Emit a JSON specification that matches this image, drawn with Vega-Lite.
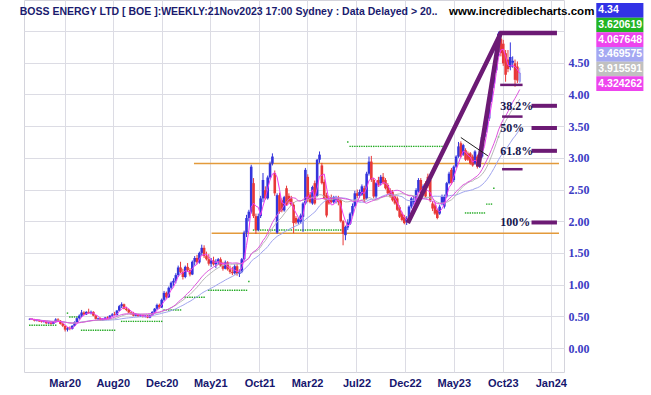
{
"$schema":"https://vega.github.io/schema/vega-lite/v6.json",
"width":540,"height":372,"autosize":"none",
"padding":{"left":24,"top":0,"right":87,"bottom":23},
"background":"#ffffff",
"config":{"view":{"stroke":"#d4d4dc","strokeWidth":1},"axis":{"labelOverlap":false}},
"datasets":{
"candles":[
{"w":0,"o":0.45,"h":0.47,"l":0.44,"c":0.46,"s":0.36},
{"w":1,"o":0.46,"h":0.47,"l":0.44,"c":0.45,"s":0.36},
{"w":2,"o":0.45,"h":0.46,"l":0.42,"c":0.43,"s":0.36},
{"w":3,"o":0.43,"h":0.45,"l":0.42,"c":0.44,"s":0.36},
{"w":4,"o":0.44,"h":0.45,"l":0.41,"c":0.42,"s":0.36},
{"w":5,"o":0.42,"h":0.43,"l":0.40,"c":0.41,"s":0.36},
{"w":6,"o":0.41,"h":0.43,"l":0.40,"c":0.42,"s":0.36},
{"w":7,"o":0.42,"h":0.42,"l":0.38,"c":0.39,"s":0.36},
{"w":8,"o":0.39,"h":0.41,"l":0.38,"c":0.40,"s":0.36},
{"w":9,"o":0.40,"h":0.41,"l":0.37,"c":0.38,"s":0.36},
{"w":10,"o":0.38,"h":0.42,"l":0.38,"c":0.41,"s":0.36},
{"w":11,"o":0.41,"h":0.47,"l":0.40,"c":0.45,"s":0.36},
{"w":12,"o":0.45,"h":0.47,"l":0.42,"c":0.43},
{"w":13,"o":0.43,"h":0.44,"l":0.37,"c":0.38},
{"w":14,"o":0.38,"h":0.40,"l":0.33,"c":0.35},
{"w":15,"o":0.35,"h":0.36,"l":0.26,"c":0.29},
{"w":16,"o":0.29,"h":0.33,"l":0.26,"c":0.31,"s":0.55},
{"w":17,"o":0.31,"h":0.34,"l":0.28,"c":0.30,"s":0.49},
{"w":18,"o":0.30,"h":0.36,"l":0.29,"c":0.35,"s":0.49},
{"w":19,"o":0.35,"h":0.42,"l":0.34,"c":0.41,"s":0.49},
{"w":20,"o":0.41,"h":0.48,"l":0.40,"c":0.47,"s":0.49},
{"w":21,"o":0.47,"h":0.53,"l":0.45,"c":0.51},
{"w":22,"o":0.51,"h":0.60,"l":0.49,"c":0.56,"s":0.28},
{"w":23,"o":0.56,"h":0.58,"l":0.52,"c":0.53,"s":0.28},
{"w":24,"o":0.53,"h":0.58,"l":0.52,"c":0.57,"s":0.28},
{"w":25,"o":0.57,"h":0.62,"l":0.54,"c":0.55,"s":0.28},
{"w":26,"o":0.55,"h":0.59,"l":0.53,"c":0.57,"s":0.28},
{"w":27,"o":0.57,"h":0.58,"l":0.50,"c":0.51,"s":0.28},
{"w":28,"o":0.51,"h":0.52,"l":0.45,"c":0.46,"s":0.28},
{"w":29,"o":0.46,"h":0.48,"l":0.44,"c":0.47,"s":0.28},
{"w":30,"o":0.47,"h":0.48,"l":0.43,"c":0.44,"s":0.28},
{"w":31,"o":0.44,"h":0.47,"l":0.43,"c":0.46,"s":0.28},
{"w":32,"o":0.46,"h":0.49,"l":0.45,"c":0.48,"s":0.28},
{"w":33,"o":0.48,"h":0.50,"l":0.46,"c":0.47,"s":0.28},
{"w":34,"o":0.47,"h":0.52,"l":0.46,"c":0.51,"s":0.28},
{"w":35,"o":0.51,"h":0.55,"l":0.49,"c":0.53,"s":0.28},
{"w":36,"o":0.53,"h":0.57,"l":0.51,"c":0.52,"s":0.28},
{"w":37,"o":0.52,"h":0.60,"l":0.51,"c":0.59},
{"w":38,"o":0.59,"h":0.68,"l":0.58,"c":0.66},
{"w":39,"o":0.66,"h":0.72,"l":0.63,"c":0.69,"s":0.42},
{"w":40,"o":0.69,"h":0.70,"l":0.61,"c":0.62,"s":0.42},
{"w":41,"o":0.62,"h":0.65,"l":0.58,"c":0.60,"s":0.42},
{"w":42,"o":0.60,"h":0.62,"l":0.55,"c":0.56,"s":0.42},
{"w":43,"o":0.56,"h":0.58,"l":0.52,"c":0.55,"s":0.42},
{"w":44,"o":0.55,"h":0.57,"l":0.50,"c":0.51,"s":0.42},
{"w":45,"o":0.51,"h":0.55,"l":0.50,"c":0.53,"s":0.42},
{"w":46,"o":0.53,"h":0.54,"l":0.49,"c":0.50,"s":0.42},
{"w":47,"o":0.50,"h":0.53,"l":0.49,"c":0.52,"s":0.42},
{"w":48,"o":0.52,"h":0.53,"l":0.48,"c":0.49,"s":0.42},
{"w":49,"o":0.49,"h":0.52,"l":0.48,"c":0.51,"s":0.42},
{"w":50,"o":0.51,"h":0.52,"l":0.47,"c":0.48,"s":0.42},
{"w":51,"o":0.48,"h":0.53,"l":0.47,"c":0.52,"s":0.42},
{"w":52,"o":0.52,"h":0.58,"l":0.51,"c":0.57,"s":0.42},
{"w":53,"o":0.57,"h":0.63,"l":0.55,"c":0.62,"s":0.42},
{"w":54,"o":0.62,"h":0.70,"l":0.60,"c":0.68,"s":0.42},
{"w":55,"o":0.68,"h":0.70,"l":0.62,"c":0.64,"s":0.42},
{"w":56,"o":0.64,"h":0.78,"l":0.63,"c":0.76,"s":0.42},
{"w":57,"o":0.76,"h":0.90,"l":0.74,"c":0.87,"s":0.60},
{"w":58,"o":0.87,"h":0.89,"l":0.78,"c":0.80,"s":0.60},
{"w":59,"o":0.80,"h":0.97,"l":0.79,"c":0.95,"s":0.60},
{"w":60,"o":0.95,"h":1.05,"l":0.92,"c":1.03,"s":0.60},
{"w":61,"o":1.03,"h":1.10,"l":0.98,"c":1.06,"s":0.60},
{"w":62,"o":1.06,"h":1.18,"l":1.02,"c":1.15,"s":0.60},
{"w":63,"o":1.15,"h":1.30,"l":1.12,"c":1.27,"s":0.60},
{"w":64,"o":1.27,"h":1.36,"l":1.18,"c":1.20,"s":0.60},
{"w":65,"o":1.20,"h":1.25,"l":1.08,"c":1.12},
{"w":66,"o":1.12,"h":1.30,"l":1.10,"c":1.28,"s":0.80},
{"w":67,"o":1.28,"h":1.34,"l":1.20,"c":1.23,"s":0.80},
{"w":68,"o":1.23,"h":1.26,"l":1.13,"c":1.16,"s":0.80},
{"w":69,"o":1.16,"h":1.38,"l":1.15,"c":1.36,"s":0.80},
{"w":70,"o":1.36,"h":1.45,"l":1.30,"c":1.42,"s":0.80},
{"w":71,"o":1.42,"h":1.47,"l":1.32,"c":1.35,"s":0.80},
{"w":72,"o":1.35,"h":1.52,"l":1.33,"c":1.50,"s":0.80},
{"w":73,"o":1.50,"h":1.63,"l":1.46,"c":1.58,"s":0.80},
{"w":74,"o":1.58,"h":1.62,"l":1.42,"c":1.45,"s":0.80},
{"w":75,"o":1.45,"h":1.52,"l":1.38,"c":1.40},
{"w":76,"o":1.40,"h":1.48,"l":1.30,"c":1.33,"s":0.91},
{"w":77,"o":1.33,"h":1.42,"l":1.28,"c":1.38,"s":0.91},
{"w":78,"o":1.38,"h":1.44,"l":1.30,"c":1.32,"s":0.91},
{"w":79,"o":1.32,"h":1.40,"l":1.26,"c":1.36,"s":0.91},
{"w":80,"o":1.36,"h":1.42,"l":1.32,"c":1.40,"s":0.91},
{"w":81,"o":1.40,"h":1.43,"l":1.28,"c":1.30,"s":0.91},
{"w":82,"o":1.30,"h":1.36,"l":1.22,"c":1.25,"s":0.91},
{"w":83,"o":1.25,"h":1.38,"l":1.24,"c":1.35,"s":0.91},
{"w":84,"o":1.35,"h":1.37,"l":1.22,"c":1.24,"s":0.91},
{"w":85,"o":1.24,"h":1.30,"l":1.17,"c":1.20,"s":0.91},
{"w":86,"o":1.20,"h":1.28,"l":1.15,"c":1.18,"s":0.91},
{"w":87,"o":1.18,"h":1.32,"l":1.16,"c":1.29,"s":0.91},
{"w":88,"o":1.29,"h":1.33,"l":1.14,"c":1.17,"s":0.91},
{"w":89,"o":1.17,"h":1.24,"l":1.12,"c":1.20,"s":0.91},
{"w":90,"o":1.20,"h":1.42,"l":1.18,"c":1.40,"s":0.91},
{"w":91,"o":1.40,"h":1.85,"l":1.38,"c":1.82,"s":0.91},
{"w":92,"o":1.82,"h":2.10,"l":1.75,"c":2.05,"s":0.91},
{"w":93,"o":2.05,"h":2.18,"l":2.00,"c":2.15,"s":1.05},
{"w":94,"o":2.15,"h":2.89,"l":2.12,"c":2.86},
{"w":95,"o":2.60,"h":2.68,"l":2.05,"c":2.08,"s":1.86},
{"w":96,"o":2.08,"h":2.12,"l":1.80,"c":1.86,"s":1.86},
{"w":97,"o":1.86,"h":2.12,"l":1.84,"c":2.08,"s":1.86},
{"w":98,"o":2.08,"h":2.40,"l":2.05,"c":2.36,"s":1.86},
{"w":99,"o":2.36,"h":2.76,"l":2.30,"c":2.65,"s":1.86},
{"w":100,"o":2.49,"h":2.55,"l":2.34,"c":2.36,"s":1.86},
{"w":101,"o":2.36,"h":2.72,"l":2.34,"c":2.69,"s":1.86},
{"w":102,"o":2.69,"h":2.94,"l":2.66,"c":2.91,"s":1.86},
{"w":103,"o":2.91,"h":3.07,"l":2.88,"c":3.02,"s":1.86},
{"w":104,"o":2.76,"h":2.80,"l":2.40,"c":2.44,"s":1.86},
{"w":105,"o":1.82,"h":2.44,"l":1.80,"c":2.41,"s":1.86},
{"w":106,"o":2.41,"h":2.45,"l":2.12,"c":2.15,"s":1.86},
{"w":107,"o":2.33,"h":2.36,"l":2.14,"c":2.17,"s":1.86},
{"w":108,"o":2.17,"h":2.40,"l":2.15,"c":2.38,"s":1.86},
{"w":109,"o":2.52,"h":2.56,"l":2.24,"c":2.26,"s":1.86},
{"w":110,"o":2.40,"h":2.44,"l":2.28,"c":2.31,"s":1.86},
{"w":111,"o":2.36,"h":2.40,"l":2.24,"c":2.26,"s":1.86},
{"w":112,"o":2.26,"h":2.30,"l":1.81,"c":1.97,"s":1.86},
{"w":113,"o":2.05,"h":2.08,"l":1.95,"c":1.98,"s":1.86},
{"w":114,"o":1.98,"h":2.06,"l":1.95,"c":2.03,"s":1.86},
{"w":115,"o":1.99,"h":2.12,"l":1.96,"c":2.09,"s":1.86},
{"w":116,"o":2.07,"h":2.30,"l":1.83,"c":2.28,"s":1.86},
{"w":117,"o":2.28,"h":2.84,"l":2.26,"c":2.81,"s":1.86},
{"w":118,"o":2.70,"h":2.74,"l":2.30,"c":2.33,"s":1.86},
{"w":119,"o":2.42,"h":2.46,"l":2.28,"c":2.30,"s":1.86},
{"w":120,"o":2.28,"h":2.56,"l":2.26,"c":2.54,"s":1.86},
{"w":121,"o":2.60,"h":2.64,"l":2.26,"c":2.28,"s":1.86},
{"w":122,"o":2.40,"h":2.98,"l":2.38,"c":2.97,"s":1.86},
{"w":123,"o":2.97,"h":3.10,"l":2.92,"c":3.05,"s":1.86},
{"w":124,"o":2.88,"h":2.92,"l":2.58,"c":2.60,"s":1.86},
{"w":125,"o":2.62,"h":2.66,"l":2.34,"c":2.36,"s":1.86},
{"w":126,"o":2.41,"h":2.45,"l":2.06,"c":2.09,"s":1.86},
{"w":127,"o":2.36,"h":2.40,"l":2.26,"c":2.28,"s":1.86},
{"w":128,"o":2.38,"h":2.42,"l":2.28,"c":2.30,"s":1.86},
{"w":129,"o":2.30,"h":2.40,"l":2.28,"c":2.38,"s":1.86},
{"w":130,"o":2.34,"h":2.40,"l":2.28,"c":2.36,"s":1.86},
{"w":131,"o":2.36,"h":2.40,"l":2.25,"c":2.30,"s":1.86},
{"w":132,"o":2.33,"h":2.36,"l":1.98,"c":2.00,"s":1.86},
{"w":133,"o":2.00,"h":2.02,"l":1.62,"c":1.80,"s":1.86},
{"w":134,"o":1.78,"h":1.93,"l":1.70,"c":1.91,"s":1.86},
{"w":135,"o":1.90,"h":2.03,"l":1.86,"c":1.98,"s":3.25},
{"w":136,"o":1.96,"h":2.14,"l":1.94,"c":2.12,"s":3.18},
{"w":137,"o":2.12,"h":2.28,"l":2.08,"c":2.24,"s":3.18},
{"w":138,"o":2.24,"h":2.48,"l":2.22,"c":2.44,"s":3.18},
{"w":139,"o":2.44,"h":2.50,"l":2.36,"c":2.40,"s":3.18},
{"w":140,"o":2.40,"h":2.50,"l":2.37,"c":2.46,"s":3.18},
{"w":141,"o":2.42,"h":2.58,"l":2.40,"c":2.55,"s":3.18},
{"w":142,"o":2.52,"h":2.56,"l":2.30,"c":2.33,"s":3.18},
{"w":143,"o":2.36,"h":2.78,"l":2.34,"c":2.75,"s":3.18},
{"w":144,"o":2.75,"h":3.02,"l":2.72,"c":2.94,"s":3.18},
{"w":145,"o":2.94,"h":3.03,"l":2.62,"c":2.65,"s":3.18},
{"w":146,"o":2.65,"h":2.68,"l":2.36,"c":2.39,"s":3.18},
{"w":147,"o":2.39,"h":2.62,"l":2.36,"c":2.60,"s":3.18},
{"w":148,"o":2.65,"h":2.70,"l":2.54,"c":2.57,"s":3.18},
{"w":149,"o":2.60,"h":2.73,"l":2.57,"c":2.70,"s":3.18},
{"w":150,"o":2.70,"h":2.76,"l":2.58,"c":2.60,"s":3.18},
{"w":151,"o":2.65,"h":2.68,"l":2.50,"c":2.52,"s":3.18},
{"w":152,"o":2.57,"h":2.60,"l":2.42,"c":2.44,"s":3.18},
{"w":153,"o":2.49,"h":2.52,"l":2.37,"c":2.39,"s":3.18},
{"w":154,"o":2.46,"h":2.49,"l":2.31,"c":2.33,"s":3.18},
{"w":155,"o":2.39,"h":2.42,"l":2.26,"c":2.28,"s":3.18},
{"w":156,"o":2.36,"h":2.39,"l":2.16,"c":2.18,"s":3.18},
{"w":157,"o":2.22,"h":2.25,"l":2.05,"c":2.07,"s":3.18},
{"w":158,"o":2.12,"h":2.15,"l":2.00,"c":2.02,"s":3.18},
{"w":159,"o":2.07,"h":2.10,"l":1.95,"c":1.97,"s":3.18},
{"w":160,"o":1.99,"h":2.08,"l":1.94,"c":2.05,"s":3.18},
{"w":161,"o":2.05,"h":2.25,"l":2.02,"c":2.23,"s":3.18},
{"w":162,"o":2.23,"h":2.38,"l":2.20,"c":2.36,"s":3.18},
{"w":163,"o":2.30,"h":2.40,"l":2.26,"c":2.32,"s":3.18},
{"w":164,"o":2.32,"h":2.52,"l":2.28,"c":2.49,"s":3.18},
{"w":165,"o":2.47,"h":2.68,"l":2.45,"c":2.65,"s":3.18},
{"w":166,"o":2.65,"h":2.68,"l":2.42,"c":2.44,"s":3.18},
{"w":167,"o":2.44,"h":2.58,"l":2.42,"c":2.55,"s":3.18},
{"w":168,"o":2.60,"h":2.63,"l":2.37,"c":2.39,"s":3.18},
{"w":169,"o":2.70,"h":2.75,"l":2.52,"c":2.55,"s":3.18},
{"w":170,"o":2.65,"h":2.68,"l":2.30,"c":2.33,"s":3.18},
{"w":171,"o":2.28,"h":2.32,"l":2.16,"c":2.20,"s":3.18},
{"w":172,"o":2.25,"h":2.28,"l":2.10,"c":2.12,"s":3.18},
{"w":173,"o":2.18,"h":2.20,"l":2.03,"c":2.05,"s":3.18},
{"w":174,"o":2.12,"h":2.26,"l":2.10,"c":2.23,"s":3.18},
{"w":175,"o":2.28,"h":2.42,"l":2.25,"c":2.39,"s":3.18},
{"w":176,"o":2.23,"h":2.42,"l":2.20,"c":2.39},
{"w":177,"o":2.39,"h":2.62,"l":2.37,"c":2.60},
{"w":178,"o":2.60,"h":2.78,"l":2.58,"c":2.75},
{"w":179,"o":2.81,"h":2.84,"l":2.58,"c":2.60},
{"w":180,"o":2.65,"h":2.88,"l":2.62,"c":2.86},
{"w":181,"o":2.86,"h":3.04,"l":2.84,"c":3.02},
{"w":182,"o":3.02,"h":3.25,"l":3.00,"c":3.18},
{"w":183,"o":3.23,"h":3.26,"l":3.00,"c":3.02},
{"w":184,"o":3.05,"h":3.22,"l":3.03,"c":3.20},
{"w":185,"o":3.12,"h":3.15,"l":2.95,"c":2.97,"s":2.13},
{"w":186,"o":3.07,"h":3.10,"l":2.95,"c":2.97,"s":2.13},
{"w":187,"o":3.07,"h":3.09,"l":2.89,"c":2.91,"s":2.13},
{"w":188,"o":3.02,"h":3.05,"l":2.86,"c":2.88,"s":2.13},
{"w":189,"o":2.91,"h":3.12,"l":2.89,"c":3.10,"s":2.13},
{"w":190,"o":3.02,"h":3.05,"l":2.83,"c":2.86,"s":2.13},
{"w":191,"o":2.86,"h":3.04,"l":2.84,"c":3.02,"s":2.13},
{"w":192,"o":3.02,"h":3.36,"l":3.00,"c":3.33,"s":2.13},
{"w":193,"o":3.33,"h":3.52,"l":3.28,"c":3.49,"s":2.13},
{"w":194,"o":3.45,"h":3.74,"l":3.40,"c":3.70,"s":2.27},
{"w":195,"o":3.62,"h":4.00,"l":3.58,"c":3.96,"s":2.27},
{"w":196,"o":3.92,"h":4.22,"l":3.88,"c":4.17,"s":2.27},
{"w":197,"o":4.17,"h":4.48,"l":4.10,"c":4.44,"s":2.52},
{"w":198,"o":4.38,"h":4.78,"l":4.34,"c":4.75},
{"w":199,"o":4.66,"h":4.99,"l":4.60,"c":4.96,"s":3.33},
{"w":200,"o":4.88,"h":4.92,"l":4.60,"c":4.65},
{"w":201,"o":4.80,"h":4.86,"l":4.45,"c":4.49},
{"w":202,"o":4.65,"h":4.70,"l":4.20,"c":4.31},
{"w":203,"o":4.55,"h":4.70,"l":4.35,"c":4.40},
{"w":204,"o":4.43,"h":4.82,"l":4.38,"c":4.59},
{"w":205,"o":4.50,"h":4.60,"l":4.42,"c":4.53},
{"w":206,"o":4.49,"h":4.55,"l":4.12,"c":4.23},
{"w":207,"o":4.44,"h":4.52,"l":4.18,"c":4.22},
{"w":208,"o":4.20,"h":4.42,"l":4.18,"c":4.34,"partial":true}
],
"lines":[
{"id":"up1","w":160.5,"v":1.97},{"id":"up1","w":200.0,"v":4.97},{"id":"up1","w":223.8,"v":4.97},
{"id":"up2","w":190.4,"v":2.86},{"id":"up2","w":199.5,"v":4.95},
{"id":"tri","w":183.0,"v":3.32},{"id":"tri","w":194.5,"v":3.03}
],
"levels":[
{"kind":"sr","v":2.91,"w1":69.7,"w2":224.667},
{"kind":"sr","v":1.81,"w1":77.2,"w2":224.667},
{"kind":"fib","label":"38.2%","v":3.82,"w1":213.0,"w2":223.8},
{"kind":"fib","label":"50%","v":3.47,"w1":213.0,"w2":223.8},
{"kind":"fib","label":"61.8%","v":3.11,"w1":213.0,"w2":223.8},
{"kind":"fib","label":"100%","v":1.98,"w1":213.0,"w2":223.8},
{"kind":"lvl","v":4.15,"w1":199.7,"w2":209.2},
{"kind":"lvl","v":3.65,"w1":200.5,"w2":209.2},
{"kind":"lvl","v":2.82,"w1":200.5,"w2":209.2}
],
"legend":[
{"key":"close","val":"4.34"},
{"key":"stop","val":"3.620619"},
{"key":"ma20","val":"4.067648"},
{"key":"ma37","val":"3.469575"},
{"key":"ma23","val":"3.915591"},
{"key":"ma4","val":"4.324262"}
]
},
"layer":[
{
"data":{"name":"candles"},
"layer":[
{"data":{"name":"levels"},"transform":[{"filter":"datum.kind==='sr'"}],
 "mark":{"type":"rule","color":"#e39a3b","strokeWidth":1.5},
 "encoding":{
  "x":{"field":"w1","type":"quantitative","scale":{"domain":[-0.333,224.667],"nice":false,"zero":false},
   "axis":{"title":null,"values":[14.8,35.2,56,76.6,97.5,117.7,138.7,159.25,180,200.8,221.2],
    "labelExpr":"datum.value<20?'Mar20':datum.value<40?'Aug20':datum.value<60?'Dec20':datum.value<80?'May21':datum.value<100?'Oct21':datum.value<120?'Mar22':datum.value<140?'Jul22':datum.value<170?'Dec22':datum.value<190?'May23':datum.value<210?'Oct23':'Jan24'",
    "grid":true,"gridColor":"#dcdce4","gridWidth":1,"ticks":false,"domain":false,
    "labelFont":"Liberation Sans","labelFontWeight":"bold","labelFontSize":11,"labelColor":"#16166e",
    "labelPadding":5,"labelOverlap":false,"labelFlush":false}},
  "x2":{"field":"w2"},
  "y":{"field":"v","type":"quantitative","scale":{"domain":[-0.3785,5.489],"nice":false,"zero":false},
   "axis":{"title":null,"orient":"right","values":[0,0.5,1,1.5,2,2.5,3,3.5,4,4.5,5],"tickCount":12,
    "labelExpr":"datum.value>4.7?'':format(datum.value,'.2f')",
    "grid":true,"gridColor":"#dcdce4","gridWidth":1,"ticks":false,"domain":false,
    "labelOverlap":false,"labelFlush":false,"labelBound":false,
    "labelFont":"Liberation Serif","labelFontWeight":"bold","labelFontSize":12,"labelColor":"#3c3cc4","labelPadding":4}}}},
{"mark":{"type":"square","color":"#22aa22","size":2,"opacity":1},
 "encoding":{
  "x":{"field":"w","type":"quantitative","scale":{"domain":[-0.333,224.667],"nice":false,"zero":false}},
  "y":{"field":"s","type":"quantitative","scale":{"domain":[-0.3785,5.489],"nice":false,"zero":false},
   "axis":{"title":null,"orient":"right","values":[0,0.5,1,1.5,2,2.5,3,3.5,4,4.5,5],"tickCount":12,
    "labelExpr":"datum.value>4.7?'':format(datum.value,'.2f')",
    "grid":true,"gridColor":"#dcdce4","gridWidth":1,"ticks":false,"domain":false,
    "labelOverlap":false,"labelFlush":false,"labelBound":false,
    "labelFont":"Liberation Serif","labelFontWeight":"bold","labelFontSize":12,"labelColor":"#3c3cc4","labelPadding":4}}}},
{"mark":{"type":"rule","strokeWidth":1},
 "encoding":{
  "x":{"field":"w","type":"quantitative","scale":{"domain":[-0.333,224.667],"nice":false,"zero":false}},
  "y":{"field":"l","type":"quantitative","scale":{"domain":[-0.3785,5.489],"nice":false,"zero":false},
   "axis":{"title":null,"orient":"right","values":[0,0.5,1,1.5,2,2.5,3,3.5,4,4.5,5],"tickCount":12,
    "labelExpr":"datum.value>4.7?'':format(datum.value,'.2f')",
    "grid":true,"gridColor":"#dcdce4","gridWidth":1,"ticks":false,"domain":false,
    "labelOverlap":false,"labelFlush":false,"labelBound":false,
    "labelFont":"Liberation Serif","labelFontWeight":"bold","labelFontSize":12,"labelColor":"#3c3cc4","labelPadding":4}},
  "y2":{"field":"h"},
  "color":{"condition":[{"test":"datum.partial===true","value":"#a3a6ee"},{"test":"datum.c<datum.o","value":"#e83838"}],"value":"#3434dc"}}},
{"mark":{"type":"bar","width":2.6},
 "encoding":{
  "x":{"field":"w","type":"quantitative","scale":{"domain":[-0.333,224.667],"nice":false,"zero":false}},
  "y":{"field":"o","type":"quantitative","scale":{"domain":[-0.3785,5.489],"nice":false,"zero":false},
   "axis":{"title":null,"orient":"right","values":[0,0.5,1,1.5,2,2.5,3,3.5,4,4.5,5],"tickCount":12,
    "labelExpr":"datum.value>4.7?'':format(datum.value,'.2f')",
    "grid":true,"gridColor":"#dcdce4","gridWidth":1,"ticks":false,"domain":false,
    "labelOverlap":false,"labelFlush":false,"labelBound":false,
    "labelFont":"Liberation Serif","labelFontWeight":"bold","labelFontSize":12,"labelColor":"#3c3cc4","labelPadding":4}},
  "y2":{"field":"c"},
  "color":{"condition":[{"test":"datum.partial===true","value":"#a3a6ee"},{"test":"datum.c<datum.o","value":"#e83838"}],"value":"#3434dc"}}},
{"transform":[{"window":[{"op":"mean","field":"c","as":"ma"}],"frame":[-36,0],"sort":[{"field":"w"}]}],
 "mark":{"type":"line","color":"#a0a4ee","strokeWidth":1},
 "encoding":{
  "x":{"field":"w","type":"quantitative","scale":{"domain":[-0.333,224.667],"nice":false,"zero":false}},
  "y":{"field":"ma","type":"quantitative","scale":{"domain":[-0.3785,5.489],"nice":false,"zero":false}}}},
{"transform":[{"window":[{"op":"mean","field":"c","as":"ma"}],"frame":[-22,0],"sort":[{"field":"w"}]}],
 "mark":{"type":"line","color":"#b8b8b8","strokeWidth":1},
 "encoding":{
  "x":{"field":"w","type":"quantitative","scale":{"domain":[-0.333,224.667],"nice":false,"zero":false}},
  "y":{"field":"ma","type":"quantitative","scale":{"domain":[-0.3785,5.489],"nice":false,"zero":false}}}},
{"transform":[{"window":[{"op":"mean","field":"c","as":"ma"}],"frame":[-19,0],"sort":[{"field":"w"}]}],
 "mark":{"type":"line","color":"#dd55dd","strokeWidth":1},
 "encoding":{
  "x":{"field":"w","type":"quantitative","scale":{"domain":[-0.333,224.667],"nice":false,"zero":false}},
  "y":{"field":"ma","type":"quantitative","scale":{"domain":[-0.3785,5.489],"nice":false,"zero":false}}}},
{"transform":[{"window":[{"op":"mean","field":"c","as":"ma"}],"frame":[-3,0],"sort":[{"field":"w"}]}],
 "mark":{"type":"line","color":"#f03cf0","strokeWidth":1},
 "encoding":{
  "x":{"field":"w","type":"quantitative","scale":{"domain":[-0.333,224.667],"nice":false,"zero":false}},
  "y":{"field":"ma","type":"quantitative","scale":{"domain":[-0.3785,5.489],"nice":false,"zero":false}}}},
{"data":{"name":"lines"},"transform":[{"filter":"datum.id!=='tri'"}],
 "mark":{"type":"line","color":"#6c1a74","strokeWidth":4.5,"strokeCap":"butt","strokeJoin":"miter"},
 "encoding":{
  "x":{"field":"w","type":"quantitative","scale":{"domain":[-0.333,224.667],"nice":false,"zero":false}},
  "y":{"field":"v","type":"quantitative","scale":{"domain":[-0.3785,5.489],"nice":false,"zero":false}},
  "detail":{"field":"id"}}},
{"data":{"name":"lines"},"transform":[{"filter":"datum.id==='tri'"}],
 "mark":{"type":"line","color":"#202020","strokeWidth":1},
 "encoding":{
  "x":{"field":"w","type":"quantitative","scale":{"domain":[-0.333,224.667],"nice":false,"zero":false}},
  "y":{"field":"v","type":"quantitative","scale":{"domain":[-0.3785,5.489],"nice":false,"zero":false}}}},
{"data":{"name":"levels"},"transform":[{"filter":"datum.kind==='fib'"}],
 "mark":{"type":"rule","color":"#6c1a74","strokeWidth":4},
 "encoding":{
  "x":{"field":"w1","type":"quantitative","scale":{"domain":[-0.333,224.667],"nice":false,"zero":false}},
  "x2":{"field":"w2"},
  "y":{"field":"v","type":"quantitative","scale":{"domain":[-0.3785,5.489],"nice":false,"zero":false}}}},
{"data":{"name":"levels"},"transform":[{"filter":"datum.kind==='lvl'"}],
 "mark":{"type":"rule","color":"#6c1a74","strokeWidth":2.5},
 "encoding":{
  "x":{"field":"w1","type":"quantitative","scale":{"domain":[-0.333,224.667],"nice":false,"zero":false}},
  "x2":{"field":"w2"},
  "y":{"field":"v","type":"quantitative","scale":{"domain":[-0.3785,5.489],"nice":false,"zero":false}}}},
{"data":{"name":"levels"},"transform":[{"filter":"datum.kind==='fib'"}],
 "mark":{"type":"text","align":"left","baseline":"middle","font":"Liberation Serif","fontWeight":"bold","fontSize":12,"color":"#16164e"},
 "encoding":{
  "x":{"datum":199.7,"type":"quantitative","scale":{"domain":[-0.333,224.667],"nice":false,"zero":false}},
  "y":{"field":"v","type":"quantitative","scale":{"domain":[-0.3785,5.489],"nice":false,"zero":false}},
  "text":{"field":"label"}}},
{"data":{"values":[{"t":"BOSS ENERGY LTD [ BOE ]:WEEKLY:21Nov2023 17:00 Sydney : Data Delayed > 20.."}]},
 "mark":{"type":"text","align":"left","baseline":"alphabetic","font":"Liberation Sans","fontWeight":"bold","fontSize":10.5,"color":"#1a1a6e","clip":false},
 "encoding":{
  "x":{"datum":-4.25,"type":"quantitative","scale":{"domain":[-0.333,224.667],"nice":false,"zero":false}},
  "y":{"datum":5.246,"type":"quantitative","scale":{"domain":[-0.3785,5.489],"nice":false,"zero":false}},
  "text":{"field":"t"}}},
{"data":{"values":[{"t":"www.incrediblecharts.com"}]},
 "mark":{"type":"text","align":"left","baseline":"alphabetic","font":"Liberation Sans","fontWeight":"bold","fontSize":11.5,"color":"#000000"},
 "encoding":{
  "x":{"datum":178.0,"type":"quantitative","scale":{"domain":[-0.333,224.667],"nice":false,"zero":false}},
  "y":{"datum":5.246,"type":"quantitative","scale":{"domain":[-0.3785,5.489],"nice":false,"zero":false}},
  "text":{"field":"t"}}}
]
},
{
"data":{"name":"legend"},
"encoding":{"y":{"field":"key","type":"nominal","sort":null,"axis":null,"scale":{"type":"band","range":[3,91],"paddingInner":0,"paddingOuter":0}}},
"layer":[
{"mark":{"type":"rect"},
 "encoding":{
  "x":{"datum":240.5,"type":"quantitative","scale":{"domain":[-0.333,224.667],"nice":false,"zero":false}},
  "x2":{"datum":260.5},
  "color":{"field":"key","type":"nominal","sort":null,"legend":null,
   "scale":{"domain":["close","stop","ma20","ma37","ma23","ma4"],"range":["#3232e6","#22b422","#ee44ee","#a4a8f2","#c0c0c0","#ee44ee"]}}}},
{"mark":{"type":"text","align":"left","baseline":"middle","dx":2,"color":"#ffffff","font":"Liberation Sans","fontWeight":"bold","fontSize":10.5},
 "encoding":{
  "x":{"datum":240.5,"type":"quantitative","scale":{"domain":[-0.333,224.667],"nice":false,"zero":false}},
  "text":{"field":"val"}}}
]
}
],
"resolve":{"scale":{"y":"independent"}}
}
